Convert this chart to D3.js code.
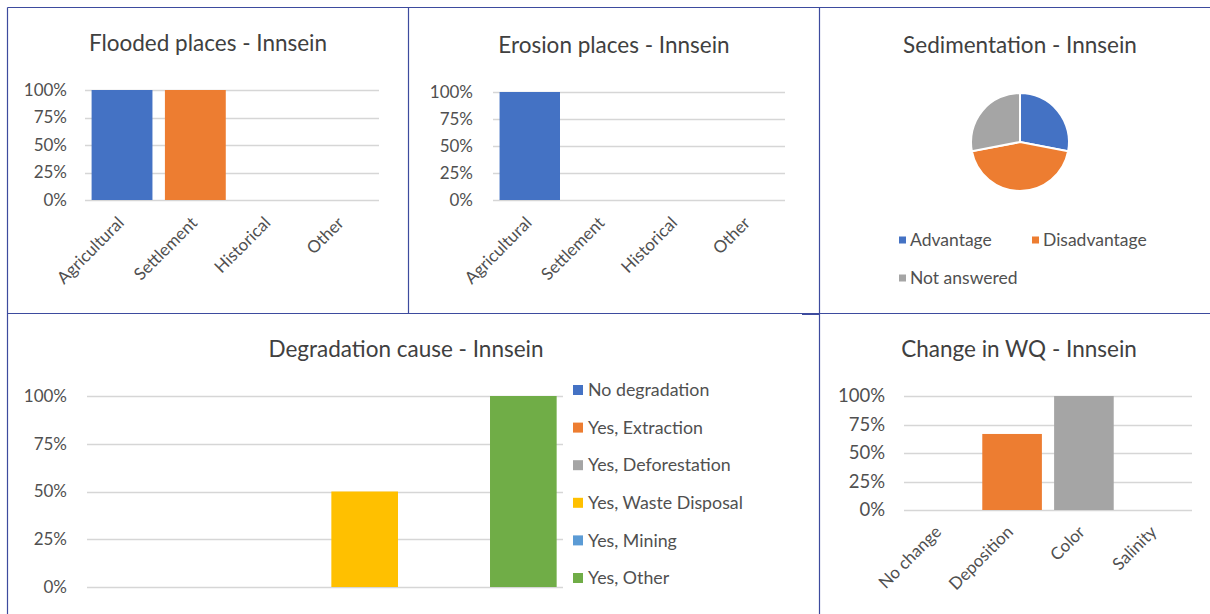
<!DOCTYPE html>
<html>
<head>
<meta charset="utf-8">
<script src="https://cdn.jsdelivr.net/npm/d3@7"></script>
<style>
  html, body { margin: 0; padding: 0; background: #fff; }
  svg { display: block; font-family: Lato, "Open Sans", sans-serif; }
</style>
</head>
<body>
<svg id="chart" width="1210" height="614"></svg>
<script>
// ---------- DATA ----------
const percentTicks = [0, 0.25, 0.5, 0.75, 1];

const placeCategories = ["Agricultural", "Settlement", "Historical", "Other"];
const floodedValues = [1, 1, 0, 0];
const erosionValues = [1, 0, 0, 0];

const sedimentationCategories = ["Advantage", "Disadvantage", "Not answered"];
const sedimentationValues = [0.28, 0.44, 0.28];

const degradationCategories = ["No degradation", "Yes, Extraction", "Yes, Deforestation",
  "Yes, Waste Disposal", "Yes, Mining", "Yes, Other"];
const degradationValues = [0, 0, 0, 0.5, 0, 1];

const wqCategories = ["No change", "Deposition", "Color", "Salinity"];
const wqValues = [0, 0.667, 1, 0];

const palette = ["#4472C4", "#ED7D31", "#A5A5A5", "#FFC000", "#5B9BD5", "#70AD47"];

// ---------- DRAWING ----------
const svg = d3.select("#chart");
const borderColor = "#3D4B9E";
const textColor = "#505050";
const titleColor = "#404040";
const gridColor = "#D6D6D6";

// panel borders
const borders = [
  [7, 7, 1210, 7], [7, 7, 7, 614], [408, 7, 408, 313], [819, 7, 819, 614],
  [7, 313, 1210, 313]
];
svg.append("g").selectAll("line").data(borders).join("line")
  .attr("x1", d => d[0] + 0.5).attr("y1", d => d[1] + 0.5)
  .attr("x2", d => d[2] + 0.5).attr("y2", d => d[3] + 0.5)
  .attr("stroke", borderColor).attr("stroke-width", 1.2);
svg.append("rect").attr("x", 802).attr("y", 313).attr("width", 17).attr("height", 2).attr("fill", borderColor);

function title(text, cx, cy) {
  svg.append("text").attr("x", cx).attr("y", cy).attr("dy", "0.35em")
    .attr("text-anchor", "middle").attr("fill", titleColor)
    .style("font-size", "22.5px").text(text);
}

function barPanel(cfg) {
  const x = d3.scaleBand().domain(cfg.categories).range(cfg.xRange)
    .paddingInner(cfg.padIn).paddingOuter(cfg.padOut);
  const y = d3.scaleLinear().domain([0, 1]).range(cfg.yRange);
  const g = svg.append("g");

  // gridlines
  g.append("g").selectAll("line").data(percentTicks).join("line")
    .attr("x1", cfg.xRange[0]).attr("x2", cfg.xRange[1])
    .attr("y1", d => Math.round(y(d)) + 0.5).attr("y2", d => Math.round(y(d)) + 0.5)
    .attr("stroke", gridColor).attr("stroke-width", 1.3);

  // y axis labels
  const yAxis = d3.axisLeft(y).tickValues(percentTicks).tickFormat(d3.format(".0%")).tickSize(0).tickPadding(0);
  const ya = g.append("g").attr("transform", `translate(${cfg.yLabelX},0)`).call(yAxis);
  ya.select(".domain").remove();
  ya.selectAll("text").attr("fill", textColor).style("font-size", cfg.tickSize || "17px")
    .style("font-family", "Lato, sans-serif");

  // bars
  g.append("g").selectAll("rect").data(cfg.values).join("rect")
    .attr("x", (d, i) => x(cfg.categories[i]))
    .attr("width", x.bandwidth())
    .attr("y", d => y(d))
    .attr("height", d => y(0) - y(d))
    .attr("fill", (d, i) => palette[i]);

  // x labels
  if (cfg.rotateLabels) {
    const xAxis = d3.axisBottom(x).tickSize(0).tickPadding(0);
    const xa = g.append("g").attr("transform", `translate(0,${cfg.xLabelY})`).call(xAxis);
    xa.select(".domain").remove();
    xa.selectAll("text")
      .attr("fill", textColor).style("font-size", "17px")
      .style("font-family", "Lato, sans-serif")
      .attr("text-anchor", "end")
      .attr("dy", "0")
      .attr("transform", `translate(${cfg.xLabelDx},0) rotate(-45)`);
  }
  title(cfg.title, cfg.titleX, cfg.titleY);
}

barPanel({
  title: "Flooded places - Innsein", titleX: 208, titleY: 43,
  categories: placeCategories, values: floodedValues,
  xRange: [85, 379], yRange: [200, 90], padIn: 0.17, padOut: 0.09,
  yLabelX: 67, rotateLabels: true, xLabelY: 224, xLabelDx: 3
});

barPanel({
  title: "Erosion places - Innsein", titleX: 614, titleY: 45,
  categories: placeCategories, values: erosionValues,
  xRange: [493, 785], yRange: [200, 92], padIn: 0.17, padOut: 0.09,
  yLabelX: 473, rotateLabels: true, xLabelY: 224, xLabelDx: 3
});

barPanel({
  title: "Degradation cause - Innsein", titleX: 406, titleY: 349,
  categories: degradationCategories, values: degradationValues,
  xRange: [87, 563], yRange: [587, 396], padIn: 0.16, padOut: 0.08,
  yLabelX: 67, rotateLabels: false
});

barPanel({
  title: "Change in WQ - Innsein", titleX: 1019, titleY: 349,
  categories: wqCategories, values: wqValues,
  xRange: [904, 1192], yRange: [510, 396], padIn: 0.17, padOut: 0.09,
  yLabelX: 885, rotateLabels: true, xLabelY: 533, xLabelDx: 2, tickSize: "18.5px"
});

// degradation legend
const degLegend = svg.append("g").selectAll("g").data(degradationCategories).join("g")
  .attr("transform", (d, i) => `translate(573,${390 + i * 37.6})`);
degLegend.append("rect").attr("x", 0).attr("y", -5).attr("width", 10).attr("height", 10)
  .attr("fill", (d, i) => palette[i]);
degLegend.append("text").attr("x", 15).attr("dy", "0.35em").attr("fill", textColor)
  .style("font-size", "17.8px").text(d => d);

// sedimentation pie
title("Sedimentation - Innsein", 1020, 45);
const pie = d3.pie().sort(null).value(d => d)(sedimentationValues);
const arc = d3.arc().innerRadius(0).outerRadius(49);
svg.append("g").attr("transform", "translate(1020,142)")
  .selectAll("path").data(pie).join("path")
  .attr("d", arc).attr("fill", (d, i) => palette[i])
  .attr("stroke", "#fff").attr("stroke-width", 2);

const pieLegendPos = [[899, 240], [1032, 240], [899, 278]];
const pl = svg.append("g").selectAll("g").data(sedimentationCategories).join("g")
  .attr("transform", (d, i) => `translate(${pieLegendPos[i][0]},${pieLegendPos[i][1]})`);
pl.append("rect").attr("x", 0).attr("y", -3.5).attr("width", 7).attr("height", 7)
  .attr("fill", (d, i) => palette[i]);
pl.append("text").attr("x", 11).attr("dy", "0.35em").attr("fill", textColor)
  .style("font-size", "17.5px").text(d => d);
</script>
</body>
</html>
